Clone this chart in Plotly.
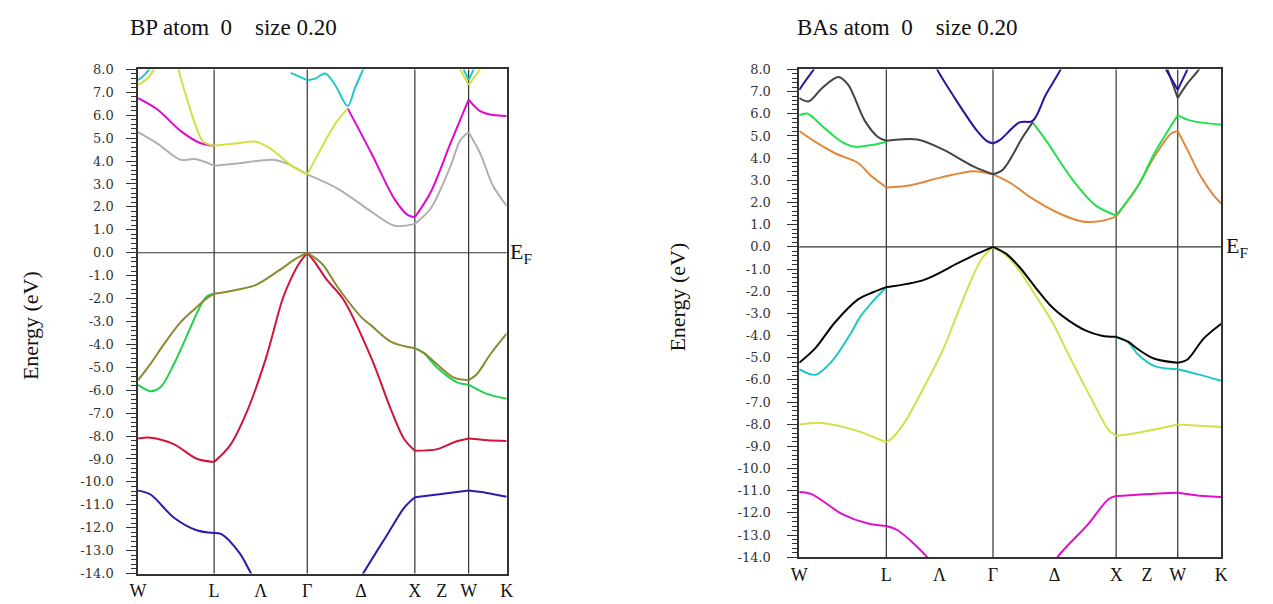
import plotly.graph_objects as go

# ---------------- k-path (FCC) ----------------
K_TICK_POS = [0.0, 0.7071, 1.1401, 1.5731, 2.0731, 2.5731, 2.8231, 3.0731, 3.4267]
K_TICK_TEXT = ["W", "L", "Λ", "Γ", "Δ", "X", "Z", "W", "K"]
K_LINES = [0.7071, 1.5731, 2.5731, 3.0731]
HS_POINTS = [0.0, 0.7071, 1.5731, 2.5731, 3.0731, 3.4267]
K_END = 3.4267

E_TICKS = [8, 7, 6, 5, 4, 3, 2, 1, 0, -1, -2, -3, -4, -5, -6, -7, -8, -9, -10, -11, -12, -13, -14]
E_TICK_TEXT = ["8.0", "7.0", "6.0", "5.0", "4.0", "3.0", "2.0", "1.0", "0.0", "-1.0", "-2.0", "-3.0",
               "-4.0", "-5.0", "-6.0", "-7.0", "-8.0", "-9.0", "-10.0", "-11.0", "-12.0", "-13.0", "-14.0"]

# ---------------- BP bands ----------------
BP_BLUE_L_K = [0.0, 0.116, 0.331, 0.545, 0.7071, 0.775, 0.944, 1.051, 1.158]
BP_BLUE_L_E = [-10.38, -10.55, -11.55, -12.11, -12.23, -12.28, -13.11, -14.0, -14.9]
BP_BLUE_R_K = [1.985, 2.092, 2.322, 2.475, 2.5731, 2.782, 3.0731, 3.241, 3.4267]
BP_BLUE_R_E = [-14.9, -14.0, -12.26, -11.12, -10.67, -10.55, -10.38, -10.48, -10.65]

BP_RED_K = [0.0, 0.116, 0.331, 0.545, 0.7071, 0.852, 1.005, 1.189, 1.342, 1.42, 1.50, 1.5731,
            1.65, 1.75, 1.909, 2.169, 2.353, 2.475, 2.5731, 2.782, 2.95, 3.0731, 3.25, 3.4267]
BP_RED_E = [-8.11, -8.07, -8.35, -8.99, -9.13, -8.43, -7.01, -4.60, -2.04, -1.15, -0.45, 0.0,
            -0.45, -1.15, -2.04, -4.60, -6.87, -8.14, -8.64, -8.57, -8.25, -8.11, -8.18, -8.21]

BP_GREEN_L_K = [0.0, 0.116, 0.208, 0.331, 0.484, 0.55, 0.62, 0.66, 0.7071]
BP_GREEN_L_E = [-5.76, -6.04, -5.87, -4.88, -3.30, -2.60, -2.00, -1.85, -1.79]
BP_GREEN_R_K = [2.5731, 2.65, 2.782, 2.966, 3.0731, 3.241, 3.4267]
BP_GREEN_R_E = [-4.17, -4.35, -5.02, -5.66, -5.76, -6.16, -6.37]

BP_OLIVE_K = [0.0, 0.116, 0.239, 0.392, 0.515, 0.637, 0.7071, 0.944, 1.097, 1.311, 1.464, 1.5731,
              1.71, 1.863, 2.077, 2.169, 2.353, 2.5731, 2.66, 2.782, 2.935, 3.0731, 3.149, 3.272, 3.4267]
BP_OLIVE_E = [-5.56, -4.85, -4.00, -3.05, -2.50, -2.00, -1.79, -1.59, -1.40, -0.77, -0.27, 0.0,
              -0.48, -1.55, -2.82, -3.18, -3.89, -4.17, -4.38, -4.88, -5.45, -5.56, -5.30, -4.45, -3.53]

BP_GRAY_K = [0.0, 0.178, 0.392, 0.53, 0.7071, 0.944, 1.25, 1.373, 1.5731, 1.863, 2.169, 2.383,
             2.5731, 2.72, 2.904, 2.996, 3.0731, 3.18, 3.30, 3.4267]
BP_GRAY_E = [5.26, 4.77, 4.06, 4.09, 3.80, 3.91, 4.06, 3.91, 3.42, 2.78, 1.79, 1.18,
             1.26, 1.93, 3.77, 4.91, 5.26, 4.34, 2.92, 2.04]

BP_MAG_L_K = [0.0, 0.178, 0.392, 0.576, 0.7071]
BP_MAG_L_E = [6.75, 6.26, 5.33, 4.79, 4.67]
BP_MAG_R_K = [1.949, 2.169, 2.383, 2.506, 2.5731, 2.72, 2.904, 3.0731, 3.18, 3.30, 3.4267]
BP_MAG_R_E = [6.30, 4.34, 2.35, 1.65, 1.55, 2.64, 4.77, 6.68, 6.18, 6.01, 5.97]

BP_YEL_MID_K = [0.7071, 0.944, 1.097, 1.25, 1.434, 1.5731, 1.71, 1.832, 1.949]
BP_YEL_MID_E = [4.67, 4.79, 4.84, 4.48, 3.77, 3.42, 4.62, 5.62, 6.30]
BP_YEL_UP_K = [0.37, 0.386, 0.453, 0.53, 0.607, 0.7071]
BP_YEL_UP_E = [8.3, 7.82, 6.75, 5.62, 4.84, 4.67]
BP_YEL_W0_K = [0.0, 0.086, 0.147, 0.17]
BP_YEL_W0_E = [7.32, 7.60, 8.0, 8.3]
BP_YEL_W1_K = [2.996, 3.0731, 3.18]
BP_YEL_W1_E = [8.0, 7.32, 8.0]

BP_CYAN_W0_K = [0.0, 0.055, 0.101, 0.12]
BP_CYAN_W0_E = [7.53, 7.74, 8.0, 8.2]
BP_CYAN_G_K = [1.42, 1.5731, 1.648, 1.74, 1.832, 1.949, 2.016, 2.092, 2.11]
BP_CYAN_G_E = [7.85, 7.53, 7.60, 7.82, 7.32, 6.40, 7.18, 8.0, 8.2]
BP_CYAN_W1_K = [3.027, 3.0731, 3.12]
BP_CYAN_W1_E = [8.0, 7.53, 8.0]

# ---------------- BAs bands ----------------
BAS_MAG_L_K = [0.0, 0.104, 0.345, 0.559, 0.7071, 0.799, 1.04, 1.10]
BAS_MAG_L_E = [-11.06, -11.16, -12.04, -12.48, -12.59, -12.78, -14.0, -14.5]
BAS_MAG_R_K = [2.04, 2.096, 2.35, 2.51, 2.5731, 2.884, 3.0731, 3.285, 3.4267]
BAS_MAG_R_E = [-14.6, -14.0, -12.48, -11.38, -11.24, -11.13, -11.09, -11.24, -11.28]

BAS_YEL_K = [0.0, 0.184, 0.478, 0.62, 0.7071, 0.746, 0.853, 1.013, 1.173, 1.272, 1.40, 1.48, 1.5731,
             1.682, 1.788, 1.922, 2.056, 2.163, 2.35, 2.51, 2.5731, 2.75, 3.0731, 3.4267]
BAS_YEL_E = [-8.01, -7.94, -8.31, -8.62, -8.82, -8.67, -7.94, -6.33, -4.57, -3.18, -1.45, -0.55, 0.0,
             -0.40, -1.07, -2.23, -3.40, -4.60, -6.62, -8.24, -8.53, -8.38, -8.01, -8.13]

BAS_CYAN_L_K = [0.0, 0.131, 0.265, 0.425, 0.492, 0.612, 0.7071]
BAS_CYAN_L_E = [-5.52, -5.77, -5.16, -3.84, -3.18, -2.37, -1.82]
BAS_CYAN_R_K = [2.5731, 2.670, 2.751, 2.884, 3.0731, 3.231, 3.4267]
BAS_CYAN_R_E = [-4.06, -4.30, -4.86, -5.38, -5.52, -5.74, -6.04]

BAS_BLACK_K = [0.0, 0.131, 0.291, 0.478, 0.60, 0.7071, 1.013, 1.28, 1.441, 1.5731, 1.682, 1.788,
               1.922, 2.056, 2.189, 2.323, 2.457, 2.5731, 2.670, 2.751, 2.884, 3.0731, 3.152, 3.285, 3.4267]
BAS_BLACK_E = [-5.23, -4.57, -3.40, -2.37, -2.05, -1.82, -1.49, -0.76, -0.32, 0.0, -0.32, -0.91,
               -1.86, -2.74, -3.33, -3.77, -4.01, -4.06, -4.28, -4.62, -5.05, -5.23, -5.08, -4.13, -3.47]

BAS_ORANGE_K = [0.0, 0.131, 0.291, 0.478, 0.585, 0.7071, 0.879, 1.147, 1.414, 1.5731, 1.708, 1.895,
                2.082, 2.296, 2.457, 2.5731, 2.751, 2.884, 3.018, 3.0731, 3.152, 3.258, 3.365, 3.4267]
BAS_ORANGE_E = [5.22, 4.73, 4.22, 3.78, 3.19, 2.68, 2.75, 3.12, 3.41, 3.27, 2.90, 2.17,
                1.58, 1.14, 1.17, 1.36, 2.75, 4.07, 5.10, 5.22, 4.37, 3.19, 2.32, 1.95]

BAS_GREEN_L_K = [0.0, 0.064, 0.211, 0.345, 0.452, 0.585, 0.7071]
BAS_GREEN_L_E = [5.93, 6.01, 5.32, 4.73, 4.51, 4.59, 4.73]
BAS_GREEN_R_K = [1.895, 2.002, 2.216, 2.403, 2.5731, 2.751, 2.884, 3.0731, 3.178, 3.4267]
BAS_GREEN_R_E = [5.61, 4.81, 3.05, 1.88, 1.41, 2.75, 4.22, 5.93, 5.69, 5.51]

BAS_DKGRAY_K = [0.0, 0.078, 0.184, 0.318, 0.398, 0.532, 0.639, 0.7071, 0.96, 1.173, 1.414, 1.5731,
                1.655, 1.815, 1.895]
BAS_DKGRAY_E = [6.71, 6.56, 7.15, 7.66, 7.30, 5.69, 4.95, 4.78, 4.84, 4.37, 3.63, 3.27,
                3.49, 4.95, 5.61]
BAS_DKGRAY_W_K = [2.99, 3.0731, 3.152, 3.245, 3.27]
BAS_DKGRAY_W_E = [8.0, 6.71, 7.37, 8.0, 8.3]

BAS_BLUE_W0_K = [0.0, 0.064, 0.118, 0.13]
BAS_BLUE_W0_E = [7.08, 7.59, 8.0, 8.2]
BAS_BLUE_G_K = [1.10, 1.12, 1.28, 1.441, 1.521, 1.5731, 1.628, 1.788, 1.895, 2.002, 2.122, 2.14]
BAS_BLUE_G_E = [8.3, 8.0, 6.56, 5.25, 4.78, 4.66, 4.81, 5.61, 5.68, 6.86, 8.0, 8.3]
BAS_BLUE_W1_K = [2.978, 3.0731, 3.152]
BAS_BLUE_W1_E = [8.0, 7.08, 8.0]

# ---------------- figure ----------------
FW, FH = 1273, 604
fig = go.Figure()


def px_x(p):
    return p / FW


def px_y(p):
    return 1 - p / FH


def add_band(k, e, color, ax, width=2.0):
    xa = "x" if ax == 1 else "x2"
    ya = "y" if ax == 1 else "y2"
    segs = []
    ck, ce = [k[0]], [e[0]]
    for i in range(1, len(k)):
        ck.append(k[i])
        ce.append(e[i])
        if i < len(k) - 1 and any(abs(k[i] - h) < 1e-6 for h in HS_POINTS):
            segs.append((ck, ce))
            ck, ce = [k[i]], [e[i]]
    segs.append((ck, ce))
    for sk, se in segs:
        fig.add_trace(go.Scatter(
            x=sk, y=se, mode="lines",
            line=dict(color=color, width=width, shape="spline", smoothing=0.9),
            xaxis=xa, yaxis=ya, showlegend=False, hoverinfo="skip"))


# BP colors
C_BLUE = "#2c1caa"
C_RED = "#d0143a"
C_GREEN = "#1ed24e"
C_OLIVE = "#8c8a32"
C_GRAY = "#b0b0b0"
C_MAG = "#e008d0"
C_YEL = "#d2e042"
C_CYAN = "#1ec8c8"
# BAs colors
C2_MAG = "#e010c8"
C2_YEL = "#d2e04a"
C2_CYAN = "#1ec6c6"
C2_BLACK = "#050505"
C2_ORANGE = "#e2883a"
C2_GREEN = "#22e04c"
C2_DKGRAY = "#444444"
C2_BLUE = "#2c10a2"

# BP panel
add_band(BP_BLUE_L_K, BP_BLUE_L_E, C_BLUE, 1)
add_band(BP_BLUE_R_K, BP_BLUE_R_E, C_BLUE, 1)
add_band(BP_RED_K, BP_RED_E, C_RED, 1)
add_band(BP_GREEN_L_K, BP_GREEN_L_E, C_GREEN, 1)
add_band(BP_GREEN_R_K, BP_GREEN_R_E, C_GREEN, 1)
add_band(BP_OLIVE_K, BP_OLIVE_E, C_OLIVE, 1)
add_band(BP_GRAY_K, BP_GRAY_E, C_GRAY, 1)
add_band(BP_MAG_L_K, BP_MAG_L_E, C_MAG, 1)
add_band(BP_MAG_R_K, BP_MAG_R_E, C_MAG, 1)
add_band(BP_CYAN_W0_K, BP_CYAN_W0_E, C_CYAN, 1)
add_band(BP_CYAN_G_K, BP_CYAN_G_E, C_CYAN, 1)
add_band(BP_CYAN_W1_K, BP_CYAN_W1_E, C_CYAN, 1)
add_band(BP_YEL_MID_K, BP_YEL_MID_E, C_YEL, 1)
add_band(BP_YEL_UP_K, BP_YEL_UP_E, C_YEL, 1)
add_band(BP_YEL_W0_K, BP_YEL_W0_E, C_YEL, 1)
add_band(BP_YEL_W1_K, BP_YEL_W1_E, C_YEL, 1)

# BAs panel
add_band(BAS_MAG_L_K, BAS_MAG_L_E, C2_MAG, 2)
add_band(BAS_MAG_R_K, BAS_MAG_R_E, C2_MAG, 2)
add_band(BAS_YEL_K, BAS_YEL_E, C2_YEL, 2)
add_band(BAS_CYAN_L_K, BAS_CYAN_L_E, C2_CYAN, 2)
add_band(BAS_CYAN_R_K, BAS_CYAN_R_E, C2_CYAN, 2)
add_band(BAS_BLACK_K, BAS_BLACK_E, C2_BLACK, 2)
add_band(BAS_ORANGE_K, BAS_ORANGE_E, C2_ORANGE, 2)
add_band(BAS_GREEN_L_K, BAS_GREEN_L_E, C2_GREEN, 2)
add_band(BAS_GREEN_R_K, BAS_GREEN_R_E, C2_GREEN, 2)
add_band(BAS_DKGRAY_K, BAS_DKGRAY_E, C2_DKGRAY, 2)
add_band(BAS_DKGRAY_W_K, BAS_DKGRAY_W_E, C2_DKGRAY, 2)
add_band(BAS_BLUE_W0_K, BAS_BLUE_W0_E, C2_BLUE, 2)
add_band(BAS_BLUE_G_K, BAS_BLUE_G_E, C2_BLUE, 2)
add_band(BAS_BLUE_W1_K, BAS_BLUE_W1_E, C2_BLUE, 2)

AX_COL = "#333333"
SERIF = "Liberation Serif, Times New Roman, serif"
TICK_SERIF = "DejaVu Serif"


def xaxis_cfg(dom):
    return dict(domain=dom, range=[0, K_END], tickmode="array", tickvals=K_TICK_POS,
                ticktext=K_TICK_TEXT, ticks="", showgrid=False, zeroline=False,
                showline=True, mirror=True, linecolor=AX_COL, linewidth=1.5,
                tickfont=dict(family=SERIF, size=18, color="#111"), ticklabelstandoff=0,
                fixedrange=True)


def yaxis_cfg(dom, standoff):
    return dict(domain=dom, range=[-14, 8], tickmode="array", tickvals=E_TICKS,
                ticktext=E_TICK_TEXT, ticks="outside", ticklen=10, tickwidth=1,
                tickcolor=AX_COL, showgrid=False, zeroline=False, showline=True,
                mirror=True, linecolor=AX_COL, linewidth=1.5,
                tickfont=dict(family=TICK_SERIF, size=13, color="#333"),
                ticklabelstandoff=standoff,
                minor=dict(tickmode="linear", tick0=0, dtick=0.2, ticks="outside",
                           ticklen=5, tickwidth=1, tickcolor=AX_COL, showgrid=False),
                fixedrange=True)


fig.update_layout(
    width=FW, height=FH, margin=dict(l=0, r=0, t=0, b=0),
    paper_bgcolor="white", plot_bgcolor="white",
    xaxis=xaxis_cfg([px_x(130.7), px_x(504.0)]),
    yaxis=yaxis_cfg([px_y(581.0), px_y(64.0)], 10),
    xaxis2=xaxis_cfg([px_x(800.3), px_x(1227.7)]),
    yaxis2=yaxis_cfg([px_y(564.3), px_y(64.0)], 14),
)
fig.update_layout(xaxis2=dict(anchor="y2"), yaxis2=dict(anchor="x2"))

shapes = []
for ax in (("x", "y"), ("x2", "y2")):
    for kl in K_LINES:
        shapes.append(dict(type="line", xref=ax[0], yref=ax[1] + " domain", x0=kl, x1=kl, y0=0, y1=1,
                           line=dict(color=AX_COL, width=1.2), layer="below"))
    shapes.append(dict(type="line", xref=ax[0] + " domain", yref=ax[1], x0=0, x1=1, y0=0, y1=0,
                       line=dict(color=AX_COL, width=1.2), layer="below"))
fig.update_layout(shapes=shapes)

NB = "\u00a0"
annots = [
    dict(text="BP atom" + NB * 2 + "0" + NB * 4 + "size 0.20", x=px_x(121), y=px_y(21),
         xanchor="left", yanchor="middle", font=dict(family=SERIF, size=23, color="#111")),
    dict(text="BAs" + NB + "atom" + NB * 2 + "0" + NB * 4 + "size 0.20", x=px_x(796), y=px_y(21),
         xanchor="left", yanchor="middle", font=dict(family=SERIF, size=23, color="#111")),
    dict(text="Energy (eV)", x=px_x(22), y=px_y(326.5), textangle=-90,
         xanchor="center", yanchor="middle", font=dict(family=SERIF, size=22, color="#111")),
    dict(text="Energy (eV)", x=px_x(677), y=px_y(297.5), textangle=-90,
         xanchor="center", yanchor="middle", font=dict(family=SERIF, size=22, color="#111")),
    dict(text="E<sub>F</sub>", x=px_x(505), y=px_y(252), xanchor="left", yanchor="middle",
         font=dict(family=SERIF, size=22, color="#111")),
    dict(text="E<sub>F</sub>", x=px_x(1230), y=px_y(246), xanchor="left", yanchor="middle",
         font=dict(family=SERIF, size=22, color="#111")),
]
for a in annots:
    a.update(xref="paper", yref="paper", showarrow=False)
fig.update_layout(annotations=annots)

fig.write_html("out.html")
